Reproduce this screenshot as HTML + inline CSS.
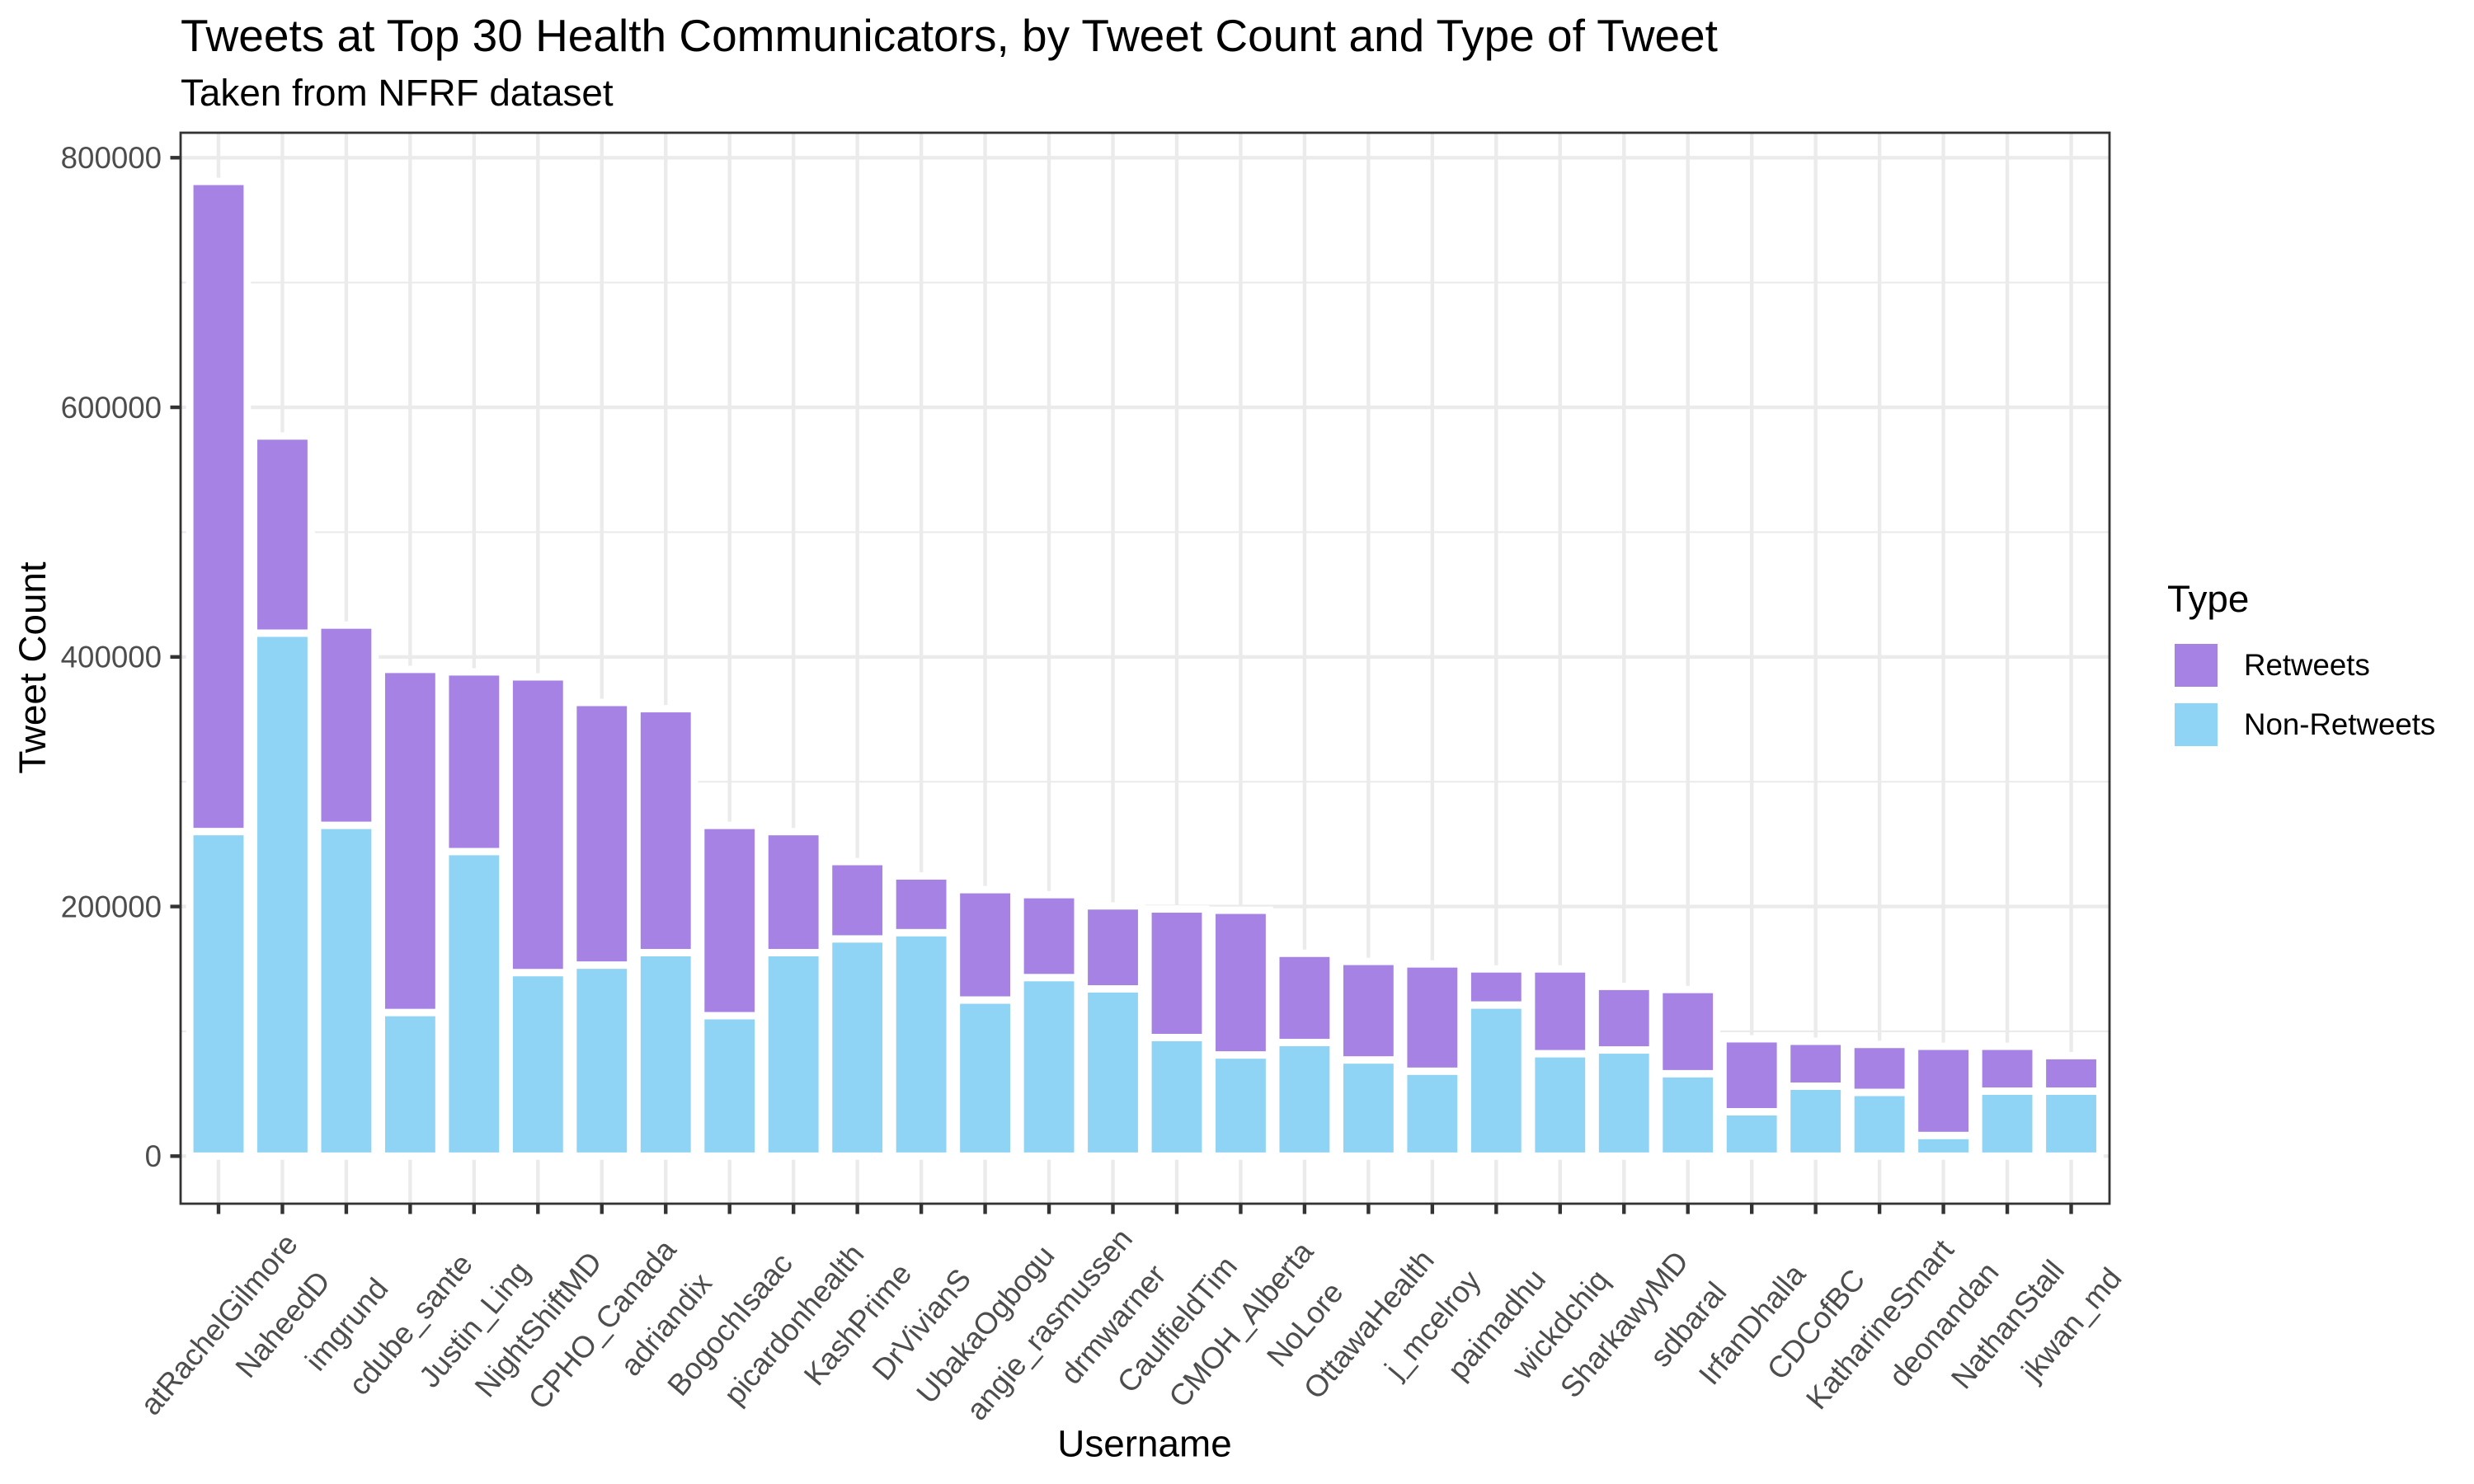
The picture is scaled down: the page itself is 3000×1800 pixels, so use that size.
<!DOCTYPE html>
<html lang="en">
<head>
<meta charset="utf-8">
<title>Tweets at Top 30 Health Communicators</title>
<style>
  html, body { margin: 0; padding: 0; background: #ffffff; }
  svg { display: block; font-family: "Liberation Sans", Arial, sans-serif; }
</style>
</head>
<body>
<svg id="chart" xmlns="http://www.w3.org/2000/svg" width="3000" height="1800" viewBox="0 0 3000 1800">
  <rect x="0" y="0" width="3000" height="1800" fill="#ffffff"/>
  <text x="219" y="62" font-size="55" fill="#000000">Tweets at Top 30 Health Communicators, by Tweet Count and Type of Tweet</text>
  <text x="219" y="128" font-size="45.83" fill="#000000">Taken from NFRF dataset</text>
  <g id="grid"></g>
  <g id="bars"></g>
  <rect x="219" y="161" width="2339" height="1299" fill="none" stroke="#333333" stroke-width="2.8"/>
  <g id="axes"></g>
  <text x="1388" y="1766.5" font-size="45.83" text-anchor="middle" fill="#000000">Username</text>
  <text transform="translate(55,810) rotate(-90)" font-size="45.83" text-anchor="middle" fill="#000000">Tweet Count</text>
  <g>
    <text x="2628" y="742" font-size="45.83" fill="#000000">Type</text>
    <g>
      <rect x="2637" y="781" width="52" height="52" fill="#A582E3"/>
      <text x="2721" y="819" font-size="36.67" fill="#000000">Retweets</text>
    </g>
    <g>
      <rect x="2637" y="853" width="52" height="52" fill="#8FD3F5"/>
      <text x="2721" y="891" font-size="36.67" fill="#000000">Non-Retweets</text>
    </g>
  </g>
</svg>
<script>
const usernames = ["atRachelGilmore","NaheedD","imgrund","cdube_sante","Justin_Ling","NightShiftMD","CPHO_Canada","adriandix","BogochIsaac","picardonhealth","KashPrime","DrVivianS","UbakaOgbogu","angie_rasmussen","drmwarner","CaulfieldTim","CMOH_Alberta","NoLore","OttawaHealth","j_mcelroy","paimadhu","wickdchiq","SharkawyMD","sdbaral","IrfanDhalla","CDCofBC","KatharineSmart","deonandan","NathanStall","jkwan_md"];
const nonRetweets = [260000,419000,265000,115000,244000,147000,153000,163000,112500,163000,174000,179000,125000,143000,134000,95000,81000,91000,77000,68000,121000,82000,85000,66000,35500,56000,51000,16500,52000,52000];
const retweets = [521000,158000,160500,275000,144000,237000,210500,195500,152500,97000,62000,45500,88500,66500,66500,103000,116000,71500,79000,86000,29000,68000,51000,67500,58500,36000,38500,71500,36000,28500];
const yMajorTicks = [0,200000,400000,600000,800000];
const yMinorTicks = [100000,300000,500000,700000];
const yTickLabels = ["0","200000","400000","600000","800000"];

const NS = "http://www.w3.org/2000/svg";
const panel = { left: 218.5, right: 2558, top: 161, bottom: 1460 };
const zeroY = 1402.3;
const pxPerUnit = 1211 / 800000;
const step = (panel.right - panel.left) / (usernames.length - 1 + 1.2);

function xScale(i) { return panel.left + (i + 0.6) * step; }
function yScale(v) { return zeroY - v * pxPerUnit; }

function make(tag, attrs, parent) {
  const el = document.createElementNS(NS, tag);
  for (const k in attrs) el.setAttribute(k, attrs[k]);
  parent.appendChild(el);
  return el;
}

const grid = document.getElementById("grid");
const bars = document.getElementById("bars");
const axes = document.getElementById("axes");

yMinorTicks.forEach(function (v) {
  const line = make("line", { x1: panel.left, x2: panel.right, y1: yScale(v), y2: yScale(v), stroke: "#EBEBEB", "stroke-width": 2.2 }, grid);
  
  
});
yMajorTicks.forEach(function (v) {
  const line = make("line", { x1: panel.left, x2: panel.right, y1: yScale(v), y2: yScale(v), stroke: "#EBEBEB", "stroke-width": 4.4 }, grid);
  
  
});
usernames.forEach(function (name, i) {
  const line = make("line", { x1: xScale(i), x2: xScale(i), y1: panel.top, y2: panel.bottom, stroke: "#EBEBEB", "stroke-width": 4.4 }, grid);
  
  
});

const barWidth = step * 0.9;
usernames.forEach(function (name, i) {
  const base = nonRetweets[i];
  const total = base + retweets[i];
  const top = make("rect", { x: xScale(i) - barWidth / 2, y: yScale(total), width: barWidth, height: yScale(base) - yScale(total), fill: "#A582E3", stroke: "#ffffff", "stroke-width": 8.9 }, bars);
  
  
  const bottom = make("rect", { x: xScale(i) - barWidth / 2, y: yScale(base), width: barWidth, height: yScale(0) - yScale(base), fill: "#8FD3F5", stroke: "#ffffff", "stroke-width": 8.9 }, bars);
  
  
});

yMajorTicks.forEach(function (v, i) {
  const tick = make("line", { x1: 206.5, x2: panel.left, y1: yScale(v), y2: yScale(v), stroke: "#333333", "stroke-width": 4.4 }, axes);
  
  
  const label = make("text", { x: 196, y: yScale(v) + 12.8, "font-size": 36.67, "text-anchor": "end", fill: "#4D4D4D" }, axes);
  
  
  label.textContent = yTickLabels[i];
});

usernames.forEach(function (name, i) {
  const tick = make("line", { x1: xScale(i), x2: xScale(i), y1: panel.bottom, y2: 1472.5, stroke: "#333333", "stroke-width": 4.4 }, axes);
  
  
  const label = make("text", { transform: "translate(" + xScale(i) + ",1606) rotate(-50)", y: 13, "font-size": 36.67, "text-anchor": "middle", fill: "#4D4D4D" }, axes);
  
  
  label.textContent = name;
});
</script>
</body>
</html>
